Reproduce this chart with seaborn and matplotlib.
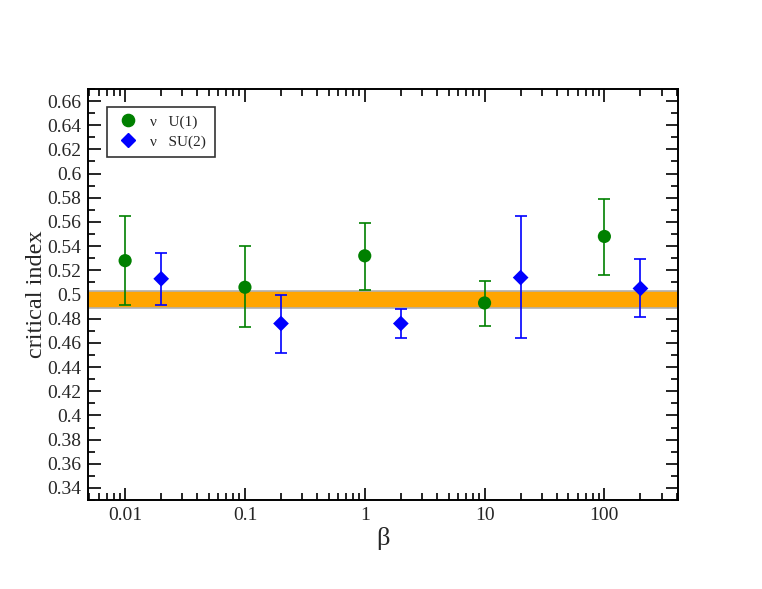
import numpy as np
import pandas as pd
import matplotlib
matplotlib.use("Agg")
import matplotlib.pyplot as plt
import seaborn as sns
from matplotlib.lines import Line2D
from matplotlib.ticker import FixedLocator, MultipleLocator, LogLocator, NullFormatter

# data
beta_u1 = [0.01, 0.1, 1, 10, 100]
nu_u1 = [0.528, 0.506, 0.532, 0.493, 0.548]
nu_u1_hi = [0.565, 0.540, 0.559, 0.511, 0.579]
nu_u1_lo = [0.491, 0.473, 0.504, 0.474, 0.516]

beta_su2 = [0.02, 0.2, 2, 20, 200]
nu_su2 = [0.513, 0.476, 0.476, 0.514, 0.505]
nu_su2_hi = [0.534, 0.500, 0.488, 0.565, 0.529]
nu_su2_lo = [0.491, 0.452, 0.464, 0.464, 0.481]

band_lo = 0.489
band_hi = 0.503

x_ticks = [0.01, 0.1, 1, 10, 100]
x_tick_labels = ["0.01", "0.1", "1", "10", "100"]
y_ticks = np.round(np.arange(0.34, 0.661, 0.02), 2)
y_tick_labels = ["%g" % v for v in y_ticks]

df_u1 = pd.DataFrame({"beta": beta_u1, "nu": nu_u1})
df_su2 = pd.DataFrame({"beta": beta_su2, "nu": nu_su2})

sns.set_style("ticks")
plt.rcParams["font.family"] = ["Liberation Serif", "DejaVu Serif"]

fig = plt.figure(figsize=(7.62, 5.89), dpi=100)
ax = fig.add_axes([0.1155, 0.151, 0.774, 0.698])

green = "#008000"
blue = "#0000ff"

# orange band
ax.axhspan(band_lo, band_hi, facecolor="#ffa500", edgecolor="#b0b0b0",
           linewidth=1.2, zorder=1)

# error bars
ax.errorbar(beta_u1, nu_u1,
            yerr=[np.array(nu_u1) - np.array(nu_u1_lo), np.array(nu_u1_hi) - np.array(nu_u1)],
            fmt="none", ecolor=green, elinewidth=1.2, capsize=4.5, capthick=1.2, zorder=2)
ax.errorbar(beta_su2, nu_su2,
            yerr=[np.array(nu_su2) - np.array(nu_su2_lo), np.array(nu_su2_hi) - np.array(nu_su2)],
            fmt="none", ecolor=blue, elinewidth=1.2, capsize=4.5, capthick=1.2, zorder=2)

# markers
sns.scatterplot(data=df_u1, x="beta", y="nu", color=green, marker="o",
                s=90, edgecolor="none", linewidth=0, ax=ax, zorder=3, legend=False)
sns.scatterplot(data=df_su2, x="beta", y="nu", color=blue, marker="D",
                s=64, edgecolor="none", linewidth=0, ax=ax, zorder=3, legend=False)

ax.set_xscale("log")
ax.set_xlim(0.0049, 410)
ax.set_ylim(0.33, 0.67)

ax.xaxis.set_major_locator(FixedLocator(x_ticks))
ax.set_xticklabels(x_tick_labels)
ax.xaxis.set_minor_locator(LogLocator(base=10, subs=np.arange(2, 10)))
ax.xaxis.set_minor_formatter(NullFormatter())
ax.set_yticks(y_ticks)
ax.set_yticklabels(y_tick_labels)
ax.yaxis.set_minor_locator(MultipleLocator(0.01))

ax.tick_params(which="both", direction="in", top=True, right=True,
               labelsize=14, width=1.2, color="black", pad=5)
ax.tick_params(which="major", length=9)
ax.tick_params(which="minor", length=5)
for sp in ax.spines.values():
    sp.set_linewidth(1.4)
    sp.set_color("black")

ax.set_xlabel("β", fontsize=19, labelpad=2)
ax.set_ylabel("critical index", fontsize=17.5, labelpad=0)

handles = [
    Line2D([], [], marker="o", color=green, linestyle="none", markersize=8.8),
    Line2D([], [], marker="D", color=blue, linestyle="none", markersize=6.8),
]
leg = ax.legend(handles, ["ν   U(1)", "ν   SU(2)"], loc="upper left",
                bbox_to_anchor=(0.032, 0.957), fontsize=11, frameon=True,
                fancybox=False, edgecolor="black", handletextpad=0.7,
                borderpad=0.55, borderaxespad=0, labelspacing=0.4,
                handlelength=1.6)
leg.get_frame().set_linewidth(1.2)

fig.savefig("out.png", dpi=100)
